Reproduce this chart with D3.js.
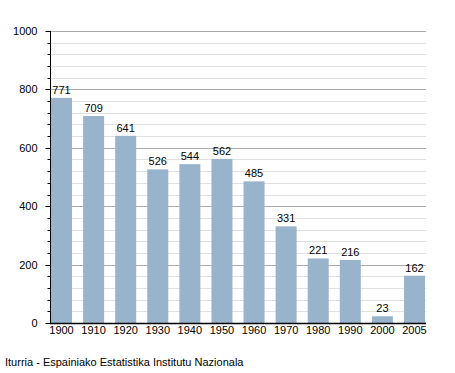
<!DOCTYPE html>
<html><head><meta charset="utf-8">
<script src="https://cdn.jsdelivr.net/npm/d3@7"></script>
<style>body{margin:0;background:#fff}svg{display:block;font-family:"Liberation Sans",Arial,sans-serif}</style>
</head><body><svg id="c" width="455" height="373"></svg>
<script>
const years = ["1900","1910","1920","1930","1940","1950","1960","1970","1980","1990","2000","2005"];
const population = [771,709,641,526,544,562,485,331,221,216,23,162];
const yTicks = [0,200,400,600,800,1000];
const source = "Iturria - Espainiako Estatistika Institutu Nazionala";

const svg = d3.select("#c");
const x = d3.scaleBand().domain(years).range([51,425]).paddingInner(0.345).paddingOuter(0);
const y = d3.scaleLinear().domain([0,1000]).range([323,31]);
const minor = d3.range(0,1001,40);

// gridlines
svg.append("g").selectAll("line").data(minor.filter(v=>v%200!==0)).join("line")
  .attr("x1",50).attr("x2",426).attr("y1",d=>Math.round(y(d))+0.5).attr("y2",d=>Math.round(y(d))+0.5)
  .attr("stroke","#e0e0e0");
svg.append("g").selectAll("line").data(yTicks.filter(v=>v>0)).join("line")
  .attr("x1",50).attr("x2",426).attr("y1",d=>Math.round(y(d))+0.5).attr("y2",d=>Math.round(y(d))+0.5)
  .attr("stroke","#aaaaaa");

// bars
svg.append("g").selectAll("rect").data(population).join("rect")
  .attr("x",(d,i)=>x(years[i])).attr("width",x.bandwidth())
  .attr("y",d=>y(d)).attr("height",d=>y(0)-y(d)).attr("fill","#99b3cc");

// value labels
svg.append("g").selectAll("text").data(population).join("text")
  .attr("x",(d,i)=>x(years[i])+x.bandwidth()/2).attr("y",d=>y(d)-4)
  .attr("text-anchor","middle").attr("font-size",11).attr("fill","#000").text(d=>d);

// y axis
const ya = svg.append("g").attr("transform","translate(50.5,0)");
ya.append("line").attr("y1",y(1000)).attr("y2",y(0)).attr("stroke","#000");
ya.selectAll(".mt").data(minor).join("line").attr("class","mt")
  .attr("x1",d=>d%200===0?-5:-3).attr("x2",0)
  .attr("y1",d=>Math.round(y(d))+0.5).attr("y2",d=>Math.round(y(d))+0.5).attr("stroke","#000");
ya.selectAll("text").data(yTicks).join("text")
  .attr("x",-13).attr("y",d=>y(d)+4).attr("text-anchor","end").attr("font-size",11).text(d=>d);

// x axis
const xa = svg.append("g");
xa.append("line").attr("x1",50).attr("x2",426).attr("y1",323.5).attr("y2",323.5).attr("stroke","#000").attr("stroke-width",1.5);
xa.selectAll("text").data(years).join("text")
  .attr("x",d=>x(d)+x.bandwidth()/2).attr("y",334).attr("text-anchor","middle").attr("font-size",11).text(d=>d);

svg.append("text").attr("x",5).attr("y",366).attr("font-size",11).text(source);
</script></body></html>
